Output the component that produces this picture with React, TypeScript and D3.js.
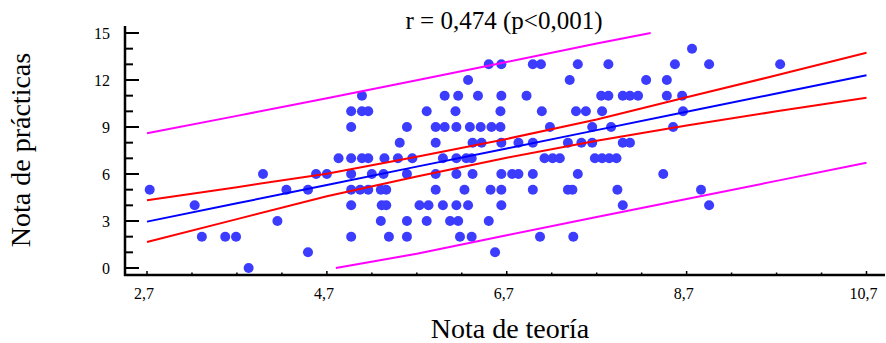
import React from 'react';
import * as d3 from 'd3';

// scatter: nota de teoría (x) vs nota de prácticas (y), read row by row
const teoria = [
  3.83,
  4.49, 6.57,
  3.31, 3.57, 3.69, 4.97, 5.39, 5.59, 6.18, 6.31, 7.07, 7.44,
  4.15, 5.30, 5.59, 5.81, 6.07, 6.16, 6.50,
  3.23, 4.97, 5.31, 5.36, 5.73, 5.83, 5.99, 6.14, 6.27, 6.64, 7.99, 8.95,
  2.73, 4.25, 4.49, 4.97, 5.07, 5.16, 5.30, 5.36, 5.91, 6.23, 6.52, 6.64, 6.99, 7.38, 7.43, 7.93, 8.86,
  3.99, 4.58, 4.70, 4.97, 5.20, 5.33, 5.59, 5.91, 6.14, 6.32, 6.64, 6.76, 6.83, 6.99, 7.49, 8.44,
  4.83, 4.97, 5.09, 5.16, 5.34, 5.49, 5.65, 5.99, 6.14, 6.25, 6.31, 7.12, 7.21, 7.29, 7.68, 7.76, 7.84, 7.92,
  5.51, 5.91, 6.32, 6.42, 6.64, 6.83, 6.99, 7.38, 7.53, 7.65, 7.99, 8.07,
  4.97, 5.59, 5.91, 6.01, 6.14, 6.29, 6.41, 6.53, 6.63, 7.18, 7.65, 7.86, 8.55,
  4.97, 5.09, 5.16, 5.81, 6.13, 6.63, 7.09, 7.47, 7.58, 7.76, 8.66,
  5.09, 6.01, 6.16, 6.38, 6.64, 6.92, 7.75, 7.83, 7.99, 8.07, 8.16, 8.48, 8.65,
  6.27, 7.40, 8.25, 8.48,
  6.50, 6.64, 6.99, 7.08, 7.49, 7.83, 8.57, 8.95, 9.74,
  8.76,
];
const practicas = [
  0,
  1, 1,
  2, 2, 2, 2, 2, 2, 2, 2, 2, 2,
  3, 3, 3, 3, 3, 3, 3,
  4, 4, 4, 4, 4, 4, 4, 4, 4, 4, 4, 4,
  5, 5, 5, 5, 5, 5, 5, 5, 5, 5, 5, 5, 5, 5, 5, 5, 5,
  6, 6, 6, 6, 6, 6, 6, 6, 6, 6, 6, 6, 6, 6, 6, 6,
  7, 7, 7, 7, 7, 7, 7, 7, 7, 7, 7, 7, 7, 7, 7, 7, 7, 7,
  8, 8, 8, 8, 8, 8, 8, 8, 8, 8, 8, 8,
  9, 9, 9, 9, 9, 9, 9, 9, 9, 9, 9, 9, 9,
  10, 10, 10, 10, 10, 10, 10, 10, 10, 10, 10,
  11, 11, 11, 11, 11, 11, 11, 11, 11, 11, 11, 11, 11,
  12, 12, 12, 12,
  13, 13, 13, 13, 13, 13, 13, 13, 13,
  14,
];

// regression line and confidence band
const fitX = [2.7, 3.7, 4.7, 5.7, 6.7, 7.7, 8.7, 9.7, 10.7];
const fitY = [2.96, 4.13, 5.30, 6.47, 7.63, 8.80, 9.98, 11.14, 12.30];
const ciUpper = [4.32, 5.16, 6.02, 7.10, 8.24, 9.48, 10.90, 12.30, 13.74];
const ciLower = [1.66, 3.12, 4.58, 5.84, 7.04, 8.12, 9.10, 10.00, 10.86];

// prediction band (cut at the axis limits)
const piUpperX = [2.7, 3.7, 4.7, 5.7, 6.7, 7.7, 8.3];
const piUpperY = [8.60, 9.71, 10.84, 11.99, 13.15, 14.33, 15.0];
const piLowerX = [4.8, 5.7, 6.7, 7.7, 8.7, 9.7, 10.7];
const piLowerY = [0.0, 0.91, 2.09, 3.25, 4.40, 5.56, 6.72];

const xTicks = [2.7, 4.7, 6.7, 8.7, 10.7];
const yTicks = [0, 3, 6, 9, 12, 15];

const W = 886;
const H = 343;
const font = '"Liberation Serif", "Times New Roman", serif';

export default function App() {
  const x = d3.scaleLinear().domain([2.7, 10.7]).range([147, 866.5]);
  const y = d3.scaleLinear().domain([0, 15]).range([268, 33]);
  const axisX = 125;
  const axisY = 275;

  const line = d3.line<[number, number]>().x(d => x(d[0])).y(d => y(d[1]));
  const zip = (xs: number[], ys: number[]) => xs.map((v, i) => [v, ys[i]] as [number, number]);

  const minorX = d3.range(2.7, 10.71, 0.5);
  const minorY = d3.range(0, 16, 1);

  return (
    <svg width={W} height={H} style={{ position: 'absolute', left: 0, top: 0, background: '#fff' }}>
      <text x={504} y={29} fontFamily={font} fontSize={25} textAnchor="middle" fill="#000">
        r = 0,474 (p&lt;0,001)
      </text>

      {/* points */}
      {teoria.map((t, i) => (
        <circle key={i} cx={x(t)} cy={y(practicas[i])} r={5} fill="#3c3cff" />
      ))}

      {/* bands */}
      <path d={line(zip(piUpperX, piUpperY)) || ''} fill="none" stroke="#ff00ff" strokeWidth={2} />
      <path d={line(zip(piLowerX, piLowerY)) || ''} fill="none" stroke="#ff00ff" strokeWidth={2} />
      <path d={line(zip(fitX, ciUpper)) || ''} fill="none" stroke="#ff0000" strokeWidth={2} />
      <path d={line(zip(fitX, ciLower)) || ''} fill="none" stroke="#ff0000" strokeWidth={2} />
      <path d={line(zip(fitX, fitY)) || ''} fill="none" stroke="#0000ff" strokeWidth={2} />

      {/* y axis */}
      <line x1={axisX} x2={axisX} y1={26} y2={axisY + 1} stroke="#000" strokeWidth={2.5} />
      {minorY.map(v => (
        <line key={'ym' + v} x1={axisX} x2={axisX + (v % 3 === 0 ? 14 : 8)} y1={y(v)} y2={y(v)}
          stroke="#000" strokeWidth={2} />
      ))}
      {yTicks.map(v => (
        <text key={'yl' + v} x={110} y={y(v) + 5.5} fontFamily={font} fontSize={16} textAnchor="end" fill="#000">
          {v}
        </text>
      ))}

      {/* x axis */}
      <line x1={axisX - 1} x2={885} y1={axisY} y2={axisY} stroke="#000" strokeWidth={2.5} />
      {minorX.map((v, i) => (
        <line key={'xm' + i} x1={x(v)} x2={x(v)} y1={axisY} y2={axisY - (i % 4 === 0 ? 4 : 2.5)}
          stroke="#000" strokeWidth={1.5} />
      ))}
      {xTicks.map(v => (
        <text key={'xl' + v} x={x(v) - 3} y={299} fontFamily={font} fontSize={16} textAnchor="middle" fill="#000">
          {String(v).replace('.', ',')}
        </text>
      ))}

      <text x={510} y={338} fontFamily={font} fontSize={28} textAnchor="middle" fill="#000">
        Nota de teoría
      </text>
      <text transform="translate(30,150) rotate(-90)" fontFamily={font} fontSize={28} textAnchor="middle" fill="#000">
        Nota de prácticas
      </text>
    </svg>
  );
}
